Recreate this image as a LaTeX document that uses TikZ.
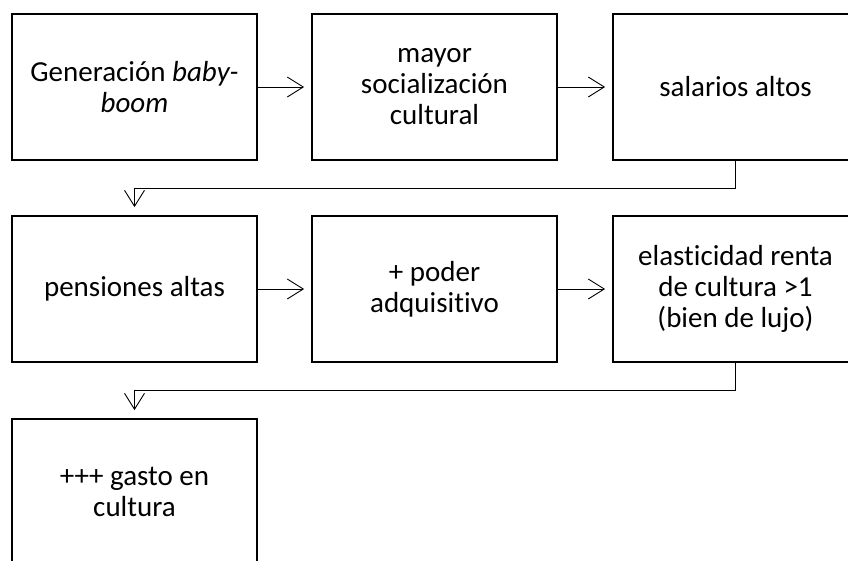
\documentclass[tikz,border=0pt]{standalone}
\usepackage{fontspec}
\setmainfont{Carlito}[Ligatures=NoCommon]
\usetikzlibrary{arrows.meta}
\tikzset{
  box/.style={draw=black, line width=1.8pt, minimum width=245pt, minimum height=146pt,
    inner sep=0pt, align=center, font=\fontsize{29}{31}\selectfont, text=black},
  conn/.style={line width=0.9pt, -{Straight Barb[length=16pt,width=20pt,line width=0.9pt]}},
}
\begin{document}
\begin{tikzpicture}[x=1pt,y=-1pt]
\useasboundingbox[fill=white] (0,0) rectangle (848,560);
\node[box] (b1) at (134.5,87) {Generación \textit{baby-}\\\textit{boom}};
\node[box] (b2) at (434.5,87) {mayor\\socialización\\cultural};
\node[box] (b3) at (735.5,87) {salarios altos};
\node[box] (b4) at (134.5,289) {pensiones altas};
\node[box] (b5) at (434.5,289) {+ poder\\adquisitivo};
\node[box] (b6) at (735.5,289) {elasticidad renta\\de cultura >1\\(bien de lujo)};
\node[box] (b7) at (134.5,492) {+++ gasto en\\cultura};
\draw[conn, shorten >=7pt] (b1) -- (b2);
\draw[conn, shorten >=7pt] (b2) -- (b3);
\draw[conn, shorten >=7pt] (b4) -- (b5);
\draw[conn, shorten >=7pt] (b5) -- (b6);
\draw[conn, shorten >=8pt] (b3.south) -- ++(0,28) -| (b4.north);
\draw[conn, shorten >=8pt] (b6.south) -- ++(0,28) -| (b7.north);
\end{tikzpicture}
\end{document}
